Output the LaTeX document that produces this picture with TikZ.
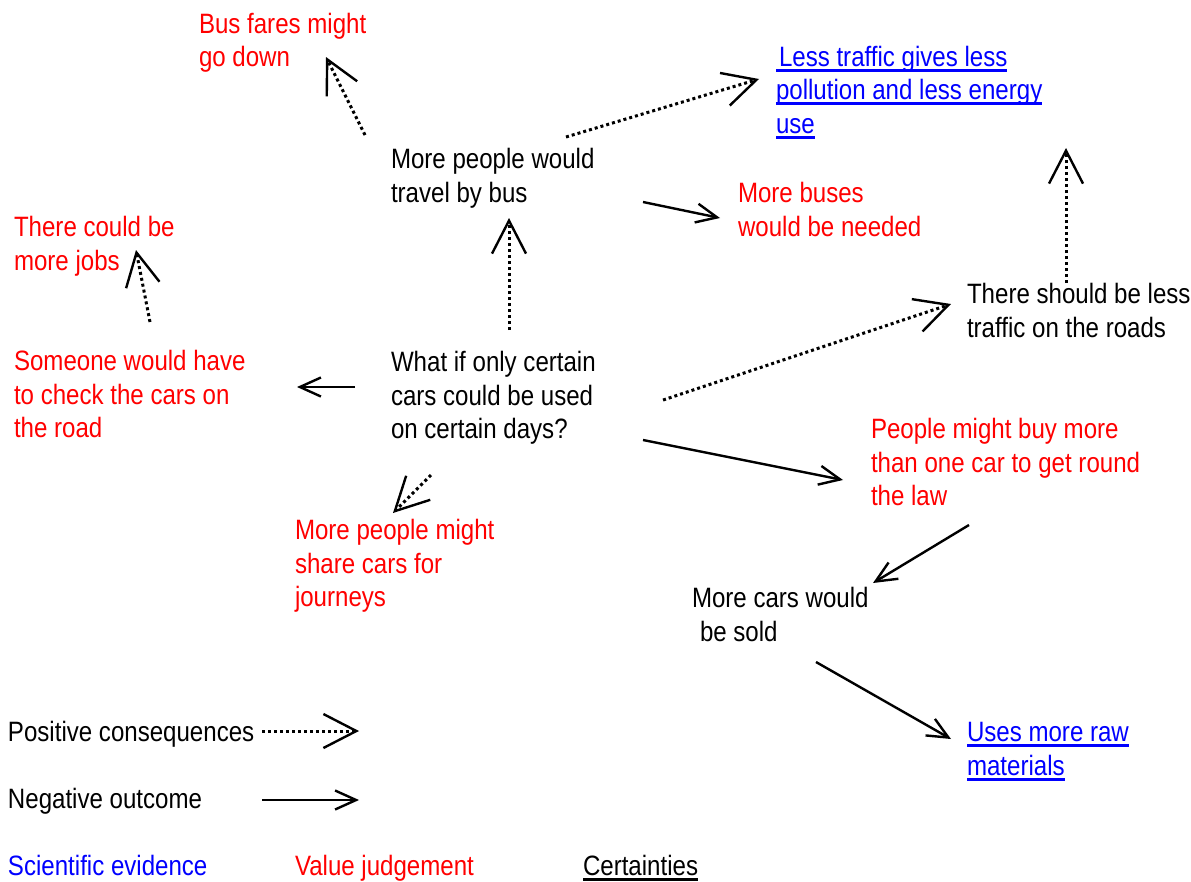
\documentclass[tikz,border=0pt]{standalone}
\usepackage{fontspec}
\setmainfont{Liberation Sans}[FakeStretch=0.86]
\usetikzlibrary{arrows.meta}
\newsavebox{\undlbox}
\newcommand{\undl}[1]{\sbox{\undlbox}{#1}\rlap{\rule[-5.5pt]{\wd\undlbox}{2.6pt}}\usebox{\undlbox}}
\tikzset{
  txt/.style = {inner sep=0pt, outer sep=0pt, anchor=base west, align=left,
                font=\fontsize{28}{33.5}\selectfont},
  judge/.style = {txt, text=red},
  fact/.style = {txt, text=blue},
  good/.style = {line width=3pt, dash pattern=on 3pt off 3pt,
                -{Straight Barb[length=33pt, width=34pt, line width=2.4pt]}},
  bad/.style = {line width=2.4pt,
                -{Straight Barb[length=21pt, width=19pt, line width=2.4pt]}}
}

\begin{document}
\begin{tikzpicture}[x=1pt, y=-1pt]
	\useasboundingbox (0,0) rectangle (1191,881);

	% Statements (placed at the baseline of their last line)
	\node[judge] (fares) at (199,66.5) {Bus fares might\\go down};
	\node[fact] (lessgas) at (776,133) {\undl{\hspace{3pt}Less traffic gives less}\\\undl{pollution and less energy}\\\undl{use}};
	\node[txt] (travel) at (391,202) {More people would\\travel by bus};
	\node[judge] (buses) at (738,236) {More buses\\would be needed};
	\node[judge] (jobs) at (14,270) {There could be\\more jobs};
	\node[txt] (lessroads) at (967,337) {There should be less\\traffic on the roads};
	\node[judge] (checks) at (14,437.5) {Someone would have\\to check the cars on\\the road};
	\node[txt] (whatif) at (391,438.5) {What if only certain\\cars could be used\\on certain days?};
	\node[judge] (buymore) at (871,505.5) {People might buy more\\than one car to get round\\the law};
	\node[judge] (share) at (295,606.5) {More people might\\share cars for\\journeys};
	\node[txt] (sold) at (692,641) {More cars would\\\hspace{8pt}be sold};
	\node[fact] (rawmat) at (967,775) {\undl{Uses more raw}\\\undl{materials}};

	% Key
	\node[txt] (keypos) at (8,741.5) {Positive consequences};
	\node[txt] (keyneg) at (8,808.5) {Negative outcome};
	\node[fact] (science) at (8,875) {Scientific evidence};
	\node[judge] (value) at (295,875) {Value judgement};
	\node[txt] (certain) at (583,875) {\undl{Certainties}};

	% Consequences
	\draw[good] ([shift={(-26,-67)}]travel.base west) -- ([shift={(127,-9.5)}]fares.base west);
	\draw[good] ([shift={(175,-65)}]travel.base west) -- ([shift={(-17,-54)}]lessgas.base west);
	\draw[bad] ([shift={(252,0)}]travel.base west) -- ([shift={(-18,-18)}]buses.base west);
	\draw[good] ([shift={(118,-108.5)}]whatif.base west) -- ([shift={(118,16)}]travel.base west);
	\draw[good] ([shift={(136,-115.5)}]checks.base west) -- ([shift={(122,-20)}]jobs.base west);
	\draw[bad] ([shift={(-36,-51.5)}]whatif.base west) -- ([shift={(283,-50.5)}]checks.base west);
	\draw[good] ([shift={(40,36.5)}]whatif.base west) -- ([shift={(98,-93.5)}]share.base west);
	\draw[good] ([shift={(272,-38.5)}]whatif.base west) -- ([shift={(-16,-33)}]lessroads.base west);
	\draw[bad] ([shift={(252,1.5)}]whatif.base west) -- ([shift={(-28,-25.5)}]buymore.base west);
	\draw[good] ([shift={(99,-54)}]lessroads.base west) -- ([shift={(290,15)}]lessgas.base west);
	\draw[bad] ([shift={(98,19.5)}]buymore.base west) -- ([shift={(181,-58)}]sold.base west);
	\draw[bad] ([shift={(124,21)}]sold.base west) -- ([shift={(-16,-36)}]rawmat.base west);

	% Key arrows
	\draw[good] ([shift={(254,-10.5)}]keypos.base west) -- ([shift={(351,-10.5)}]keypos.base west);
	\draw[bad] ([shift={(254,-8.5)}]keyneg.base west) -- ([shift={(351,-8.5)}]keyneg.base west);
\end{tikzpicture}
\end{document}
